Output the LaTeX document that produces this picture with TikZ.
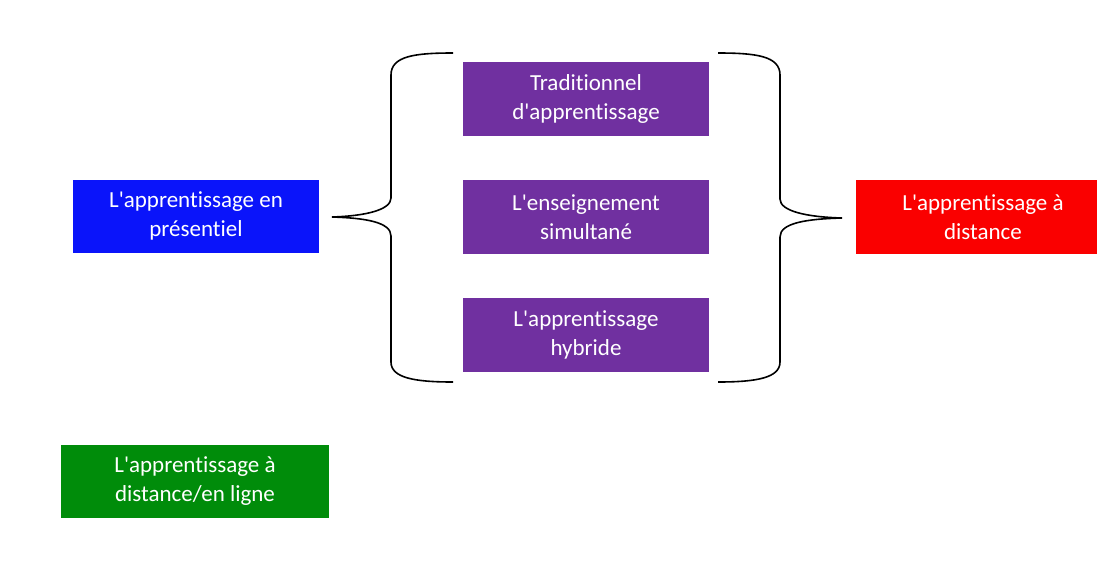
\documentclass[tikz,border=0pt]{standalone}
\usepackage{fontspec}
\setmainfont{Carlito}[Ligatures={NoCommon}]
\definecolor{bblue}{HTML}{0A14FA}
\definecolor{bgreen}{HTML}{008C0A}
\definecolor{bpurple}{HTML}{7030A0}
\definecolor{bred}{HTML}{FA0000}
\newcommand{\ap}{\textquotesingle}
\begin{document}
\begin{tikzpicture}[x=1pt,y=-1pt,
  box/.style={draw=none,minimum width=246pt,minimum height=73pt,inner sep=0pt,
    align=center,text=white,font=\fontsize{23}{29}\selectfont},
  bracepath/.style={draw=black,line width=1.6pt,line join=miter}]
\useasboundingbox (0,0) rectangle (1097,563);
\fill[white] (0,0) rectangle (1097,563);
\node[box,fill=bblue] (pres) at (196,216) {L\ap apprentissage en\\présentiel};
\node[box,fill=bgreen,minimum width=268pt] (ligne) at (195,481) {L\ap apprentissage à\\distance/en ligne};
\node[box,fill=bpurple,minimum height=74pt] (trad) at (586,99) {Traditionnel\\d\ap apprentissage};
\node[box,fill=bpurple,minimum height=74pt] (simu) at (586,217) {L\ap enseignement\\simultané};
\node[box,fill=bpurple,minimum height=74pt] (hyb) at (586,335) {L\ap apprentissage\\hybride};
\node[box,fill=bred,minimum width=254pt,minimum height=74pt] (dist) at (983,217) {L\ap apprentissage à\\distance};
% left brace
\coordinate (ltip) at (332,217);
\coordinate (ltop) at (453,53);
\coordinate (lbot) at (453,382);
\draw[bracepath] (ltop) .. controls (415,53) and (391,56) .. (391,75)
  -- (391,198) .. controls (391,210) and (365,216) .. (ltip)
  .. controls (365,218) and (391,222) .. (391,236)
  -- (391,362) .. controls (391,378) and (415,382) .. (lbot);
% right brace
\coordinate (rtip) at (842,218);
\coordinate (rtop) at (718,53);
\coordinate (rbot) at (718,382);
\draw[bracepath] (rtop) .. controls (756,53) and (780,56) .. (780,75)
  -- (780,199) .. controls (780,211) and (806,217) .. (rtip)
  .. controls (806,219) and (780,223) .. (780,237)
  -- (780,362) .. controls (780,378) and (756,382) .. (rbot);
\end{tikzpicture}
\end{document}
